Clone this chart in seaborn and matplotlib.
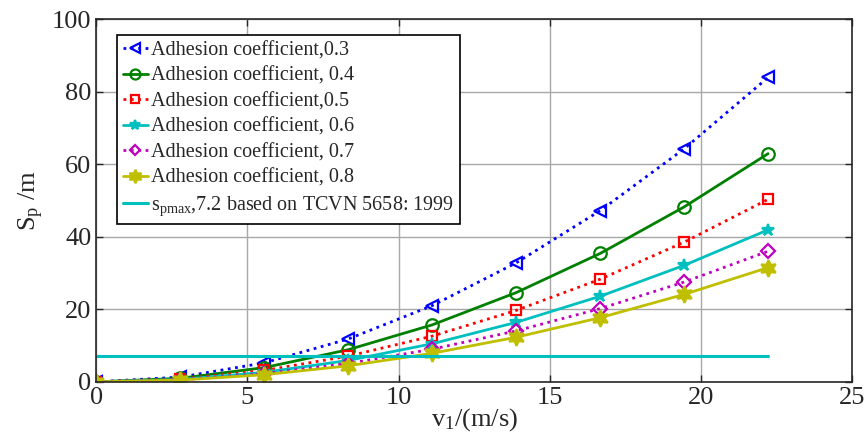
import matplotlib
matplotlib.use('Agg')
from matplotlib import pyplot as plt
import numpy as np
import pandas as pd
import seaborn as sns

# speeds, m/s (10..80 km/h)
v = [0, 2.78, 5.56, 8.33, 11.11, 13.89, 16.67, 19.44, 22.22]

# braking distance, m
s_03 = [0, 1.31, 5.24, 11.8, 21.0, 32.8, 47.2, 64.2, 83.9]
s_04 = [0, 0.98, 3.93, 8.85, 15.7, 24.6, 35.4, 48.2, 62.9]
s_05 = [0, 0.79, 3.15, 7.08, 12.6, 19.7, 28.3, 38.5, 50.3]
s_06 = [0, 0.66, 2.62, 5.9, 10.5, 16.4, 23.6, 32.1, 41.9]
s_07 = [0, 0.56, 2.25, 5.06, 9.0, 14.05, 20.2, 27.5, 36.0]
s_08 = [0, 0.49, 1.97, 4.42, 7.87, 12.3, 17.7, 24.1, 31.5]

labels = ['Adhesion coefficient,0.3', 'Adhesion coefficient, 0.4',
          'Adhesion coefficient,0.5', 'Adhesion coefficient, 0.6',
          'Adhesion coefficient, 0.7', 'Adhesion coefficient, 0.8']
s_pmax = 7.2
pmax_label = r'$\mathregular{s_{pmax}}$,7.2 based on TCVN 5658: 1999'

sns.set_style('ticks')
plt.rcParams['font.family'] = ['Liberation Serif', 'DejaVu Serif']
plt.rcParams['mathtext.fontset'] = 'custom'
plt.rcParams['mathtext.rm'] = 'Liberation Serif'
plt.rcParams['xtick.direction'] = 'in'
plt.rcParams['ytick.direction'] = 'in'

fig = plt.figure(figsize=(8.66, 4.43), dpi=100)
ax = fig.add_axes([0.111, 0.138, 0.873, 0.819])

series = [s_03, s_04, s_05, s_06, s_07, s_08]
colors = ['#0000ff', '#008000', '#ff0000', '#00bfbf', '#bf00bf', '#bfbf00']
styles = [':', '-', ':', '-', ':', '-']
markers = ['<', 'o', 's', '*', 'D', (6, 1, 0)]
msizes = [9, 9, 7, 9, 7, 12]
fills = ['none', 'none', 'none', None, 'none', None]

for s, lab, c, ls, mk, ms, fc in zip(series, labels, colors, styles, markers, msizes, fills):
    df = pd.DataFrame({'v': v, 's': s})
    kw = dict(markerfacecolor=fc) if fc else dict(markerfacecolor=c)
    sns.lineplot(data=df, x='v', y='s', ax=ax, color=c, linestyle=ls, linewidth=2,
                 marker=mk, markersize=ms, markeredgecolor=c, markeredgewidth=1.6,
                 label=lab, **kw)

ax.plot([v[0], v[-1]], [s_pmax, s_pmax], color='#00bfbf', linewidth=2.2, label=pmax_label)

ax.set_xlim(0, 25)
ax.set_ylim(0, 100)
ax.set_xticks([0, 5, 10, 15, 20, 25])
ax.set_yticks([0, 20, 40, 60, 80, 100])
ax.grid(True, color='#a8a8a8', linewidth=1)
ax.tick_params(labelsize=19, top=True, right=True, length=5, width=1)
for sp in ax.spines.values():
    sp.set_linewidth(1.2)
ax.set_xlabel(r'$\mathregular{v_1}$/(m/s)', fontsize=19, labelpad=-2)
ax.set_ylabel(r'$\mathregular{S_p}$ /m', fontsize=19, labelpad=4)

leg = ax.legend(loc='upper left', bbox_to_anchor=(0.028, 0.956), fontsize=14.5,
                frameon=True, fancybox=False, edgecolor='black', framealpha=1,
                handlelength=1.2, handletextpad=0.15, borderpad=0.3, labelspacing=0.32,
                borderaxespad=0, markerscale=0.8)
leg.get_frame().set_linewidth(1.2)

fig.savefig('out.png', dpi=100)
